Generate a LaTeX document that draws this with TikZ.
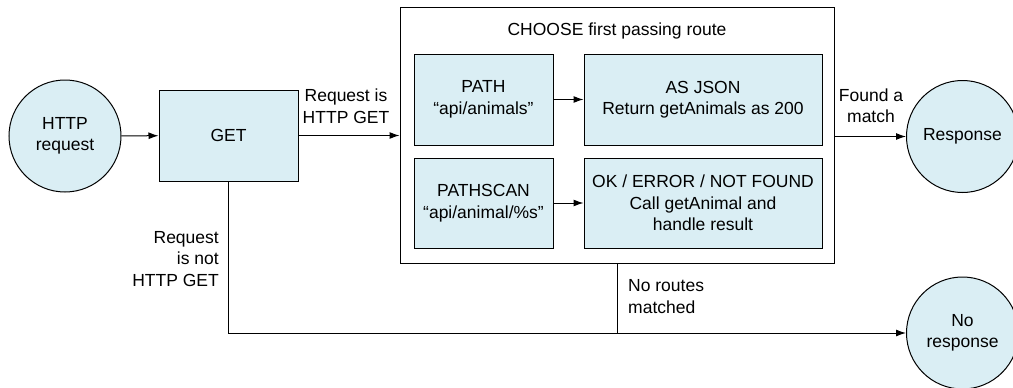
\documentclass[tikz,border=0pt]{standalone}
\usepackage{fontspec}
\setmainfont{Liberation Sans}
\usetikzlibrary{arrows.meta}
\definecolor{routefill}{RGB}{218,238,244}
\tikzset{
  txt/.style={font=\fontsize{17.5}{21.5}\selectfont,align=center},
  bubble/.style={txt,circle,draw,line width=1pt,fill=routefill,minimum size=112pt,inner sep=0pt},
  stepbox/.style={txt,rectangle,draw,line width=1pt,fill=routefill,inner sep=0pt},
  arr/.style={line width=1pt,-{Latex[length=10pt,width=7pt]}},
  wire/.style={line width=1pt}
}
\begin{document}
\begin{tikzpicture}[x=1pt,y=-1pt]
  \useasboundingbox (0,0) rectangle (1013,388);
  \node[bubble] (req) at (65,136) {HTTP\\request};
  \node[stepbox,minimum width=139pt,minimum height=91pt] (get) at (228.5,135.5) {GET};
  \node[rectangle,draw,line width=1pt,minimum width=434pt,minimum height=256pt,inner sep=0pt] (choose) at (617,135) {};
  \node[txt,anchor=base,inner sep=0pt] (title) at (617,35) {CHOOSE first passing route};
  \node[stepbox,minimum width=139pt,minimum height=91pt] (path) at (483.5,99.5) {PATH\\“api/animals”};
  \node[stepbox,minimum width=238pt,minimum height=91pt] (json) at (703,99.5) {AS JSON\\Return getAnimals as 200};
  \node[stepbox,minimum width=139pt,minimum height=90pt] (scan) at (483.5,203) {PATHSCAN\\“api/animal/\%s”};
  \node[stepbox,minimum width=238pt,minimum height=90pt] (ok) at (703,203) {OK / ERROR / NOT FOUND\\Call getAnimal and\\handle result};
  \node[bubble] (resp) at (962.5,136.5) {Response};
  \node[bubble] (nores) at (962.5,333) {No\\response};
  \node[txt,inner sep=0pt] (isget) at (346,106) {Request is\\HTTP GET};
  \node[txt,align=right,anchor=east,inner sep=0pt] (notget) at (219,259) {Request\\is not\\HTTP GET};
  \node[txt,inner sep=0pt] (found) at (871,105.5) {Found a\\match};
  \node[txt,align=left,anchor=west,inner sep=0pt] (nomatch) at (628,296.5) {No routes\\matched};
  \coordinate (join) at (choose.south |- nores.west);
  \draw[arr] (req) -- (get);
  \draw[arr] (get.east) -- (get.east -| choose.west);
  \draw[arr] (path) -- (json);
  \draw[arr] (scan) -- (ok);
  \draw[arr] (resp.west -| choose.east) -- (resp.west);
  \draw[arr] (get.south) |- (nores.west);
  \draw[wire] (choose.south) -- (join);
\end{tikzpicture}
\end{document}
